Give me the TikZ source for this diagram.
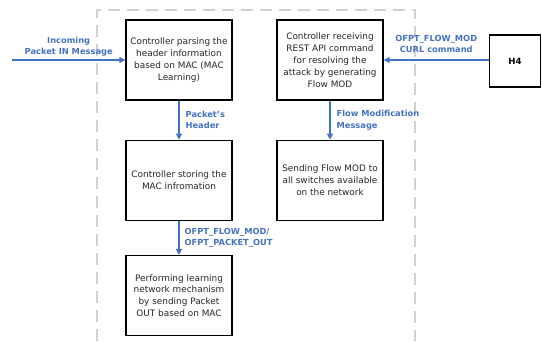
\documentclass[tikz,border=0pt]{standalone}
\usepackage{fontspec}
\setmainfont{DejaVu Sans}
\usetikzlibrary{arrows.meta}
\usetikzlibrary{positioning}

\definecolor{msgblue}{HTML}{4472C4}

\begin{document}
\begin{tikzpicture}[x=1pt,y=-1pt,
    box/.style={draw,line width=1.3pt,minimum width=106pt,minimum height=80pt,
        align=center,font=\fontsize{8.9}{11.9}\selectfont,inner sep=0pt,text=black!85},
    msg/.style={->,msgblue,line width=1.3pt,>={Triangle[length=6pt,width=6pt]}},
    lbl/.style={msgblue,font=\bfseries\fontsize{8.3}{11.2}\selectfont,inner sep=1pt},
    dashline/.style={gray!35,line width=1.6pt,dash pattern=on 12pt off 7pt}]
    \useasboundingbox (0,0) rectangle (542,341);
    \draw [dashline] (97,341) -- (97,10) -- (415,10) -- (415,341);
    \node [box] (parse) at (179,60) {Controller parsing the\\header information\\based on MAC (MAC\\Learning)};
    \node [box] (store) [below=39pt of parse] {Controller storing the\\MAC infromation};
    \node [box] (learn) [below=34pt of store] {Performing learning\\network mechanism\\by sending Packet\\OUT based on MAC};
    \node [box] (rest) at (330,60) {Controller receiving\\REST API command\\for resolving the\\attack by generating\\Flow MOD};
    \node [box] (send) [below=39pt of rest] {Sending Flow MOD to\\all switches available\\on the network};
    \node [draw,line width=1.3pt,minimum width=51pt,minimum height=52pt,
        font=\bfseries\fontsize{8.6}{11}\selectfont] (h4) at (515,61) {H4};
    \coordinate (in) at (12,60);
    \path [msg]
        (in) edge node [lbl,above=2pt,align=center] {Incoming\\Packet IN Message} (parse)
        (parse) edge node [lbl,right=5pt,align=left] {Packet's\\Header} (store)
        (store) edge node [lbl,right=4pt,align=left] {OFPT\_FLOW\_MOD/\\OFPT\_PACKET\_OUT} (learn)
        (h4.west |- rest.east) edge node [lbl,above=6pt,align=center] {OFPT\_FLOW\_MOD\\CURL command} (rest)
        (rest) edge node [lbl,right=5pt,align=left] {Flow Modification\\Message} (send);
\end{tikzpicture}
\end{document}
